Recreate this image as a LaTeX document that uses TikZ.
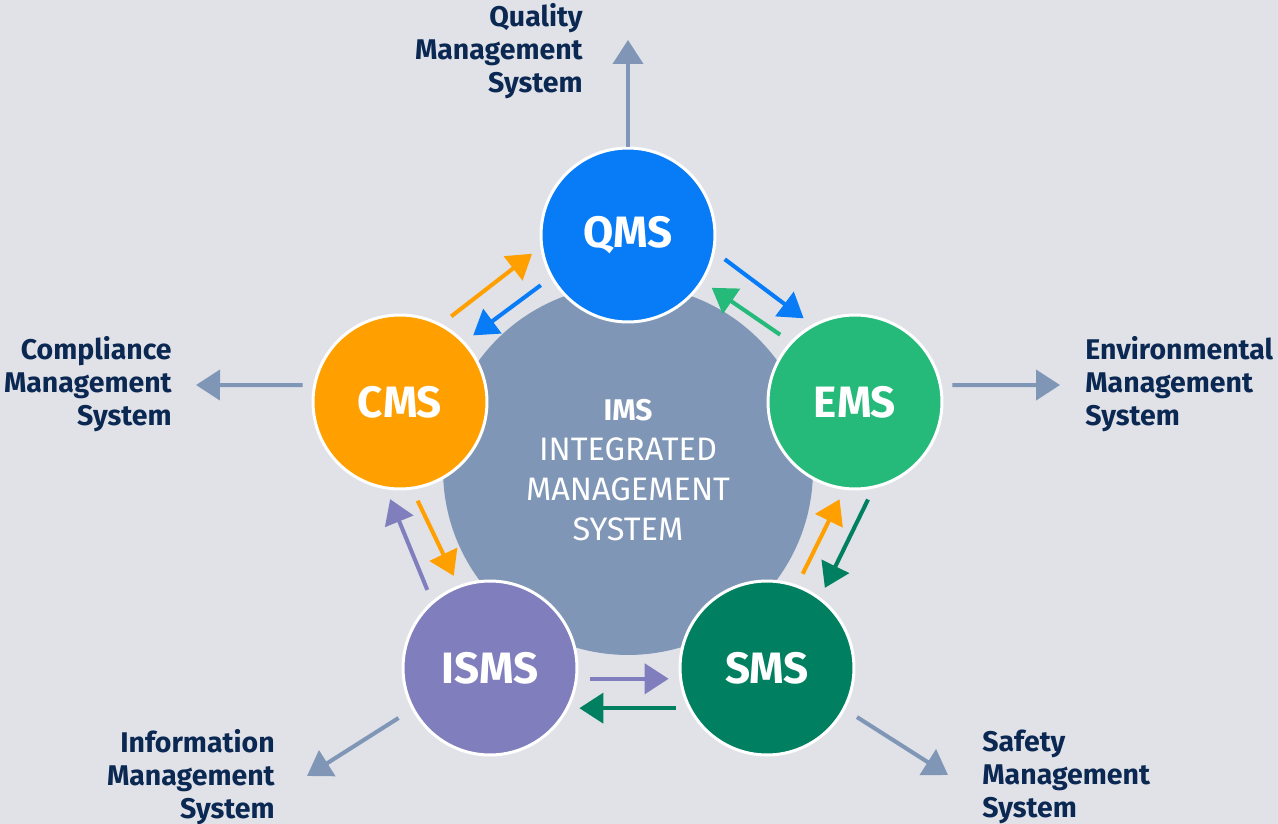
\documentclass[tikz,border=0pt]{standalone}
\usepackage{fontspec}
\setmainfont{Fira Sans}
\usepackage{xcolor}
\definecolor{bggray}{RGB}{224, 226, 232}
\definecolor{hubgray}{RGB}{128, 150, 182}
\definecolor{qmsblue}{RGB}{8, 124, 247}
\definecolor{emsgreen}{RGB}{38, 186, 122}
\definecolor{cmsorange}{RGB}{255, 160, 0}
\definecolor{ismspurple}{RGB}{129, 126, 190}
\definecolor{smsgreen}{RGB}{0, 128, 96}
\definecolor{labelnavy}{RGB}{10, 40, 82}
\usetikzlibrary{arrows.meta}

\begin{document}
\begin{tikzpicture}[
    x=0.02cm, y=-0.02cm,
    hub/.style={circle, fill=hubgray, minimum size=7.4cm, inner sep=0pt, align=center, text=white, font=\fontsize{18.5}{22.7}\selectfont},
    unit/.style={circle, draw=white, line width=1.7pt, minimum size=3.48cm, inner sep=0pt, text=white, font=\fontsize{25}{29}\selectfont\bfseries},
    label/.style={text=labelnavy, inner sep=0pt, font=\fontsize{16.2}{18.7}\selectfont\bfseries},
    flow/.style={-{Triangle[length=0.48cm, width=0.6cm]}, line width=2.3pt, shorten <=7pt, shorten >=6pt},
    outarrow/.style={-{Triangle[length=0.48cm, width=0.6cm]}, line width=2.3pt, draw=hubgray}
]
    % background
    \useasboundingbox (0, 0) rectangle (1278, 824);
    \fill[bggray] (-10, -10) rectangle (1288, 834);

    \node[hub] (ims) at (628, 470) {{\bfseries\fontsize{17}{22.7}\selectfont IMS}\\INTEGRATED\\MANAGEMENT\\SYSTEM};

    \node[unit, fill=qmsblue] (qms) at (628, 235) {QMS};
    \node[unit, fill=emsgreen] (ems) at (855, 402) {EMS};
    \node[unit, fill=cmsorange] (cms) at (400, 402) {CMS};
    \node[unit, fill=ismspurple] (isms) at (490, 668) {ISMS};
    \node[unit, fill=smsgreen] (sms) at (767, 668) {SMS};

    % flows between the systems
    \draw[flow, cmsorange] (cms.62) -- (qms.188);
    \draw[flow, qmsblue] (qms.209) -- (cms.43);
    \draw[flow, qmsblue] (qms.-11) -- (ems.119);
    \draw[flow, emsgreen] (ems.137) -- (qms.-32);
    \draw[flow, smsgreen] (ems.-78) -- (sms.53);
    \draw[flow, cmsorange] (sms.70) -- (ems.-97);
    \draw[flow, ismspurple] (isms.-7) -- (sms.187);
    \draw[flow, smsgreen] (sms.207) -- (isms.-27);
    \draw[flow, ismspurple] (isms.131) -- (cms.-99);
    \draw[flow, cmsorange] (cms.-82) -- (isms.111);

    % outer arrows
    \coordinate (qmsend) at (628, 40);
    \coordinate (emsend) at (1060, 385);
    \coordinate (cmsend) at (196, 385);
    \coordinate (ismsend) at (307, 776);
    \coordinate (smsend) at (948, 775);

    \draw[outarrow] (qms.north) -- (qmsend);
    \draw[outarrow, shorten <=6pt] (ems.11) -- (emsend);
    \draw[outarrow, shorten <=6pt] (cms.169) -- (cmsend);
    \draw[outarrow, shorten <=9pt] (isms.208) -- (ismsend);
    \draw[outarrow, shorten <=8pt] (sms.-28) -- (smsend);

    \node[label, align=right, anchor=east] (qmslabel) at (583, 51) {Quality\\Management\\System};
    \node[label, align=left, anchor=west] (emslabel) at (1085, 384) {Environmental\\Management\\System};
    \node[label, align=right, anchor=east] (cmslabel) at (172, 384) {Compliance\\Management\\System};
    \node[label, align=right, anchor=east] (ismslabel) at (275, 777) {Information\\Management\\System};
    \node[label, align=left, anchor=west] (smslabel) at (982, 777) {Safety\\Management\\System};
\end{tikzpicture}
\end{document}
